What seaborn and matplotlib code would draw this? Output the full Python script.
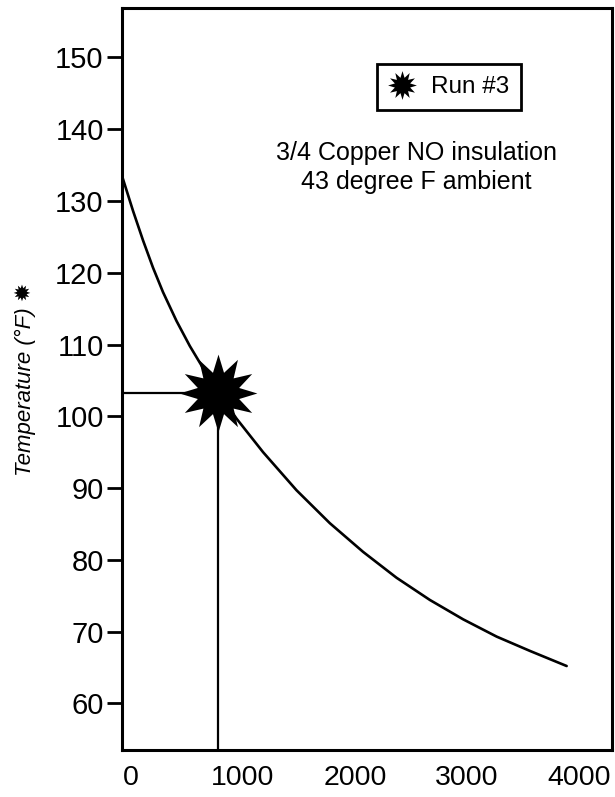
import matplotlib
matplotlib.use("Agg")
import matplotlib.pyplot as plt
from matplotlib.path import Path
import seaborn as sns
import pandas as pd
import numpy as np

# curve
distance = [-80, 21, 110, 199, 288, 408, 527, 646, 780, 943, 1181, 1479,
            1777, 2074, 2372, 2670, 2967, 3265, 3563, 3890]
temperature = [133.6, 128.6, 124.5, 120.7, 117.3, 113.3, 109.8, 106.7, 103.4,
               99.7, 95.0, 89.7, 85.1, 81.1, 77.5, 74.4, 71.7, 69.3, 67.3,
               65.2]

# run #3 point
run_x = [780]
run_y = [103.3]
run_label = "Run #3"

note_lines = ["3/4 Copper NO insulation", "43 degree F ambient"]
x_ticks = [0, 1000, 2000, 3000, 4000]
y_ticks = [60, 70, 80, 90, 100, 110, 120, 130, 140, 150]

sns.set_theme(style="white")
plt.rcParams['font.family'] = ['Liberation Sans', 'DejaVu Sans']
plt.rcParams['text.color'] = 'black'
plt.rcParams['xtick.color'] = 'black'
plt.rcParams['ytick.color'] = 'black'
plt.rcParams['axes.labelcolor'] = 'black'

# 12 pointed star marker
n = 12
ang = np.pi / 2 + np.arange(2 * n) * np.pi / n
rad = np.where(np.arange(2 * n) % 2 == 0, 1.0, 0.55)
verts = np.column_stack([rad * np.cos(ang), rad * np.sin(ang)])
verts = np.vstack([verts, verts[:1]])
star = Path(verts, closed=True)

fig = plt.figure(figsize=(6.15, 7.97), dpi=100)
ax = fig.add_axes([0.198, 0.059, 0.797, 0.931])

df = pd.DataFrame({"x": distance, "y": temperature})
sns.lineplot(data=df, x="x", y="y", ax=ax, color="black", linewidth=1.9)
ax.lines[-1].set_solid_joinstyle("round")

xmin, xmax = -80, 4294
ymin, ymax = 53.5, 156.9

# guide lines to the run point
ax.hlines(run_y, xmin, run_x, color="black", linewidth=1.6)
ax.vlines(run_x, ymin, run_y, color="black", linewidth=1.6)

ax.plot(run_x, run_y, linestyle="none", marker=star, markersize=56,
        color="black", markeredgewidth=0, label=run_label)

ax.set_xlim(xmin, xmax)
ax.set_ylim(ymin, ymax)
ax.set_xticks(x_ticks)
ax.set_yticks(y_ticks)
ax.tick_params(axis="y", which="major", direction="out", length=11, width=2,
               color="black", labelsize=21, pad=2, left=True)
ax.tick_params(axis="x", length=0, labelsize=20.5, pad=11)
for s in ax.spines.values():
    s.set_color("black")
    s.set_linewidth(2.2)

ax.set_xlabel("")
ax.set_ylabel("Temperature (°F) ✹", fontsize=16, style="italic",
              family=['Liberation Sans', 'DejaVu Sans'], labelpad=14)

leg = ax.legend(loc="upper right", bbox_to_anchor=(0.815, 0.9245),
                borderaxespad=0, fancybox=False, frameon=True, fontsize=17.5,
                markerscale=0.37, handlelength=1.0, handletextpad=0.7,
                borderpad=0.5)
leg.get_frame().set_edgecolor("black")
leg.get_frame().set_linewidth(2)
leg.get_frame().set_alpha(1)

ax.text(2549, 136.7, note_lines[0], ha="center", va="center", fontsize=18)
ax.text(2549, 132.6, note_lines[1], ha="center", va="center", fontsize=18)

fig.savefig("out.png", dpi=100)
